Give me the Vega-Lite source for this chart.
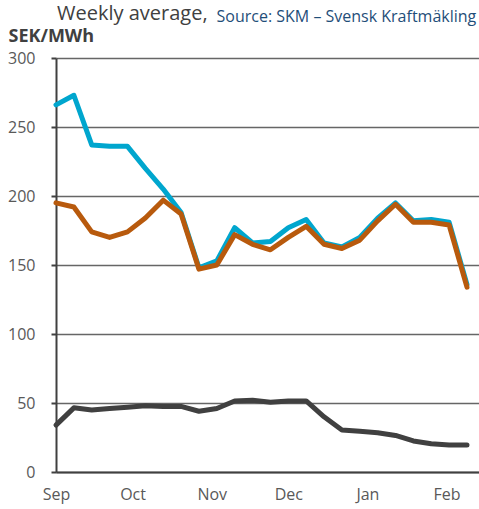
{
  "$schema": "https://vega.github.io/schema/vega-lite/v6.json",
  "width": 423,
  "height": 414,
  "autosize": "none",
  "padding": {"left": 56, "top": 58, "right": 0, "bottom": 37},
  "background": "white",
  "config": {"view": {"stroke": null}, "font": "Open Sans"},
  "title": {"text": "Weekly average,", "anchor": "start", "frame": "group", "font": "Open Sans", "fontSize": 20, "fontWeight": "normal", "color": "#404040", "baseline": "alphabetic", "offset": 0, "dx": 1, "dy": 32},
  "data": {"values": [
    {"date": "2013-09-01", "series": "Blue", "value": 266},
    {"date": "2013-09-08", "series": "Blue", "value": 273},
    {"date": "2013-09-15", "series": "Blue", "value": 237},
    {"date": "2013-09-22", "series": "Blue", "value": 236},
    {"date": "2013-09-29", "series": "Blue", "value": 236},
    {"date": "2013-10-06", "series": "Blue", "value": 220},
    {"date": "2013-10-13", "series": "Blue", "value": 205},
    {"date": "2013-10-20", "series": "Blue", "value": 188},
    {"date": "2013-10-27", "series": "Blue", "value": 148},
    {"date": "2013-11-03", "series": "Blue", "value": 153},
    {"date": "2013-11-10", "series": "Blue", "value": 177},
    {"date": "2013-11-17", "series": "Blue", "value": 166},
    {"date": "2013-11-24", "series": "Blue", "value": 167},
    {"date": "2013-12-01", "series": "Blue", "value": 177},
    {"date": "2013-12-08", "series": "Blue", "value": 183},
    {"date": "2013-12-15", "series": "Blue", "value": 166},
    {"date": "2013-12-22", "series": "Blue", "value": 163},
    {"date": "2013-12-29", "series": "Blue", "value": 170},
    {"date": "2014-01-05", "series": "Blue", "value": 184},
    {"date": "2014-01-12", "series": "Blue", "value": 195},
    {"date": "2014-01-19", "series": "Blue", "value": 182},
    {"date": "2014-01-26", "series": "Blue", "value": 183},
    {"date": "2014-02-02", "series": "Blue", "value": 181},
    {"date": "2014-02-09", "series": "Blue", "value": 136},
    {"date": "2013-09-01", "series": "Orange", "value": 195},
    {"date": "2013-09-08", "series": "Orange", "value": 192},
    {"date": "2013-09-15", "series": "Orange", "value": 174},
    {"date": "2013-09-22", "series": "Orange", "value": 170},
    {"date": "2013-09-29", "series": "Orange", "value": 174},
    {"date": "2013-10-06", "series": "Orange", "value": 184},
    {"date": "2013-10-13", "series": "Orange", "value": 197},
    {"date": "2013-10-20", "series": "Orange", "value": 187},
    {"date": "2013-10-27", "series": "Orange", "value": 147},
    {"date": "2013-11-03", "series": "Orange", "value": 150},
    {"date": "2013-11-10", "series": "Orange", "value": 172},
    {"date": "2013-11-17", "series": "Orange", "value": 165},
    {"date": "2013-11-24", "series": "Orange", "value": 161},
    {"date": "2013-12-01", "series": "Orange", "value": 170},
    {"date": "2013-12-08", "series": "Orange", "value": 178},
    {"date": "2013-12-15", "series": "Orange", "value": 165},
    {"date": "2013-12-22", "series": "Orange", "value": 162},
    {"date": "2013-12-29", "series": "Orange", "value": 168},
    {"date": "2014-01-05", "series": "Orange", "value": 182},
    {"date": "2014-01-12", "series": "Orange", "value": 194},
    {"date": "2014-01-19", "series": "Orange", "value": 181},
    {"date": "2014-01-26", "series": "Orange", "value": 181},
    {"date": "2014-02-02", "series": "Orange", "value": 179},
    {"date": "2014-02-09", "series": "Orange", "value": 134},
    {"date": "2013-09-01", "series": "Gray", "value": 34},
    {"date": "2013-09-08", "series": "Gray", "value": 46.5},
    {"date": "2013-09-15", "series": "Gray", "value": 45},
    {"date": "2013-09-22", "series": "Gray", "value": 46},
    {"date": "2013-09-29", "series": "Gray", "value": 47},
    {"date": "2013-10-06", "series": "Gray", "value": 48},
    {"date": "2013-10-13", "series": "Gray", "value": 47.5},
    {"date": "2013-10-20", "series": "Gray", "value": 47.5},
    {"date": "2013-10-27", "series": "Gray", "value": 44},
    {"date": "2013-11-03", "series": "Gray", "value": 46},
    {"date": "2013-11-10", "series": "Gray", "value": 51.5},
    {"date": "2013-11-17", "series": "Gray", "value": 52},
    {"date": "2013-11-24", "series": "Gray", "value": 50.5},
    {"date": "2013-12-01", "series": "Gray", "value": 51.5},
    {"date": "2013-12-08", "series": "Gray", "value": 51.5},
    {"date": "2013-12-15", "series": "Gray", "value": 40},
    {"date": "2013-12-22", "series": "Gray", "value": 30.5},
    {"date": "2013-12-29", "series": "Gray", "value": 29.5},
    {"date": "2014-01-05", "series": "Gray", "value": 28.5},
    {"date": "2014-01-12", "series": "Gray", "value": 26.5},
    {"date": "2014-01-19", "series": "Gray", "value": 22.5},
    {"date": "2014-01-26", "series": "Gray", "value": 20.5},
    {"date": "2014-02-02", "series": "Gray", "value": 19.5},
    {"date": "2014-02-09", "series": "Gray", "value": 19.5}
  ]},
  "encoding": {
    "x": {
      "field": "date", "type": "temporal",
      "scale": {"type": "utc", "domain": [{"year": 2013, "month": 9, "date": 1, "utc": true}, {"year": 2014, "month": 2, "date": 13, "hours": 17, "utc": true}]},
      "axis": {
        "title": "Source: SKM – Svensk Kraftmäkling",
        "format": "%b",
        "tickCount": {"interval": "month", "step": 1},
        "labelFlush": false, "labelOverlap": false,
        "ticks": false, "grid": false,
        "domainColor": "#404040", "domainWidth": 2,
        "labelFont": "Open Sans", "labelFontSize": 16, "labelColor": "#595959", "labelPadding": 14,
        "titleFont": "Open Sans", "titleFontSize": 16, "titleFontWeight": "normal", "titleColor": "#1F4E79",
        "titleX": 160, "titleY": -451, "titleAlign": "left", "titleBaseline": "alphabetic", "titleAngle": 0
      }
    },
    "y": {
      "field": "value", "type": "quantitative",
      "scale": {"domain": [0, 300], "nice": false},
      "axis": {
        "title": "SEK/MWh",
        "values": [0, 50, 100, 150, 200, 250, 300],
        "grid": true, "gridColor": "#666666", "gridWidth": 1.5,
        "domainColor": "#404040", "domainWidth": 2,
        "tickColor": "#404040", "tickWidth": 2, "tickSize": 5,
        "labelFont": "Open Sans", "labelFontSize": 16, "labelColor": "#595959", "labelPadding": 16,
        "titleFont": "Open Sans", "titleFontSize": 18, "titleFontWeight": "bold", "titleColor": "#404040",
        "titleAngle": 0, "titleAlign": "left", "titleBaseline": "alphabetic", "titleX": -48, "titleY": -17
      }
    }
  },
  "layer": [
    {"transform": [{"filter": "datum.series === 'Gray'"}], "mark": {"type": "line", "color": "#404040", "strokeWidth": 5, "strokeCap": "round", "strokeJoin": "round"}},
    {"transform": [{"filter": "datum.series === 'Blue'"}], "mark": {"type": "line", "color": "#00A6CE", "strokeWidth": 5, "strokeCap": "round", "strokeJoin": "round"}},
    {"transform": [{"filter": "datum.series === 'Orange'"}], "mark": {"type": "line", "color": "#B85A0D", "strokeWidth": 5, "strokeCap": "round", "strokeJoin": "round"}}
  ]
}
